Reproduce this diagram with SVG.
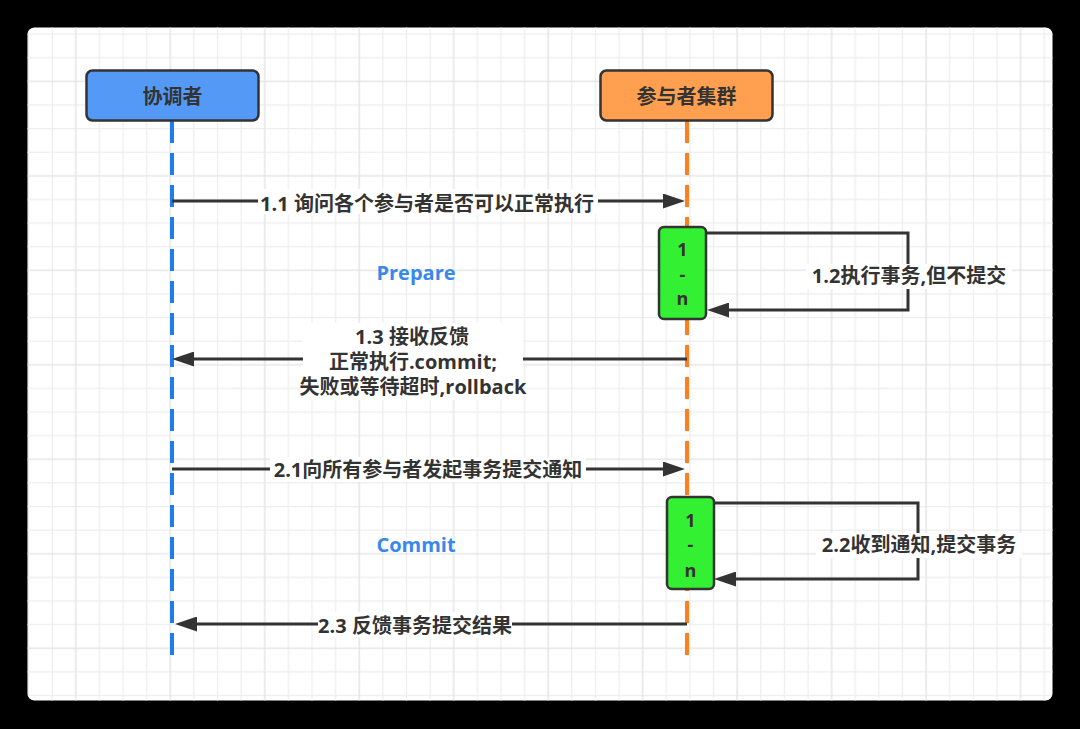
<svg xmlns="http://www.w3.org/2000/svg" width="1080" height="729" viewBox="0 0 1080 729">
<style>
.t{font-family:"Open Sans","Noto Sans CJK SC",sans-serif;font-weight:700;font-size:20px;fill:#333;text-anchor:middle}
.s{font-size:18px}
.phase{fill:#3a88ec}
.node{stroke:#333;stroke-width:2.5}
.msg{fill:none;stroke:#333;stroke-width:3;marker-end:url(#arr)}
.bg{fill:#fff}
.act{fill:#33f033;stroke:#333;stroke-width:2.5}
</style>
<defs>
<marker id="arr" markerUnits="userSpaceOnUse" markerWidth="22" markerHeight="15" refX="4" refY="7.5" orient="auto">
<path d="M0,0 L22,7.5 L0,15 z" fill="#333"/>
</marker>
<pattern id="grid" patternUnits="userSpaceOnUse" x="65.8" y="71.3" width="94.48" height="94.48">
<g stroke="#ededed" stroke-width="1.2">
<path d="M33.62,0 V94.48 M57.24,0 V94.48 M80.86,0 V94.48 M0,33.62 H94.48 M0,57.24 H94.48 M0,80.86 H94.48"/>
</g>
<path d="M10,0 V94.48 M0,10 H94.48" stroke="#e2e2e2" stroke-width="1.3"/>
</pattern>
</defs>
<rect x="0" y="0" width="1080" height="729" fill="#000"/>
<rect x="27.5" y="27.5" width="1025" height="673" rx="7" fill="#fff"/>
<rect x="27.5" y="27.5" width="1025" height="673" rx="7" fill="url(#grid)"/>

<g id="lifelines">
<line x1="172" y1="121" x2="172" y2="663" stroke="#1e7bf0" stroke-width="4" stroke-dasharray="22 10"/>
<line x1="687" y1="121" x2="687" y2="665" stroke="#ff7f1f" stroke-width="4" stroke-dasharray="22 10"/>
</g>

<g id="node-coordinator">
<rect class="node" x="86.5" y="70.5" width="172" height="50" rx="6" fill="#5599f7"/>
<text class="t" x="172.5" y="104">协调者</text>
</g>
<g id="node-participants">
<rect class="node" x="600.5" y="70.5" width="172" height="50" rx="6" fill="#ff9f4f"/>
<text class="t" x="686.5" y="104">参与者集群</text>
</g>

<g id="connectors">
<path id="m11" class="msg" d="M172,201 H667"/>
<path id="m12" class="msg" d="M706,233 H908 V310 H725"/>
<path id="m13" class="msg" d="M687,359 H190"/>
<path id="m21" class="msg" d="M172,469 H667"/>
<path id="m22" class="msg" d="M713,503 H918 V579 H732"/>
<path id="m23" class="msg" d="M687,624 H193"/>
</g>

<g id="labels">
<rect class="bg" x="258" y="189" width="340" height="25"/>
<text class="t" x="427" y="211">1.1 询问各个参与者是否可以正常执行</text>
<rect class="bg" x="806" y="264" width="206" height="25"/>
<text class="t" x="909" y="283">1.2执行事务,但不提交</text>
<rect class="bg" x="303" y="323" width="220" height="77"/>
<text class="t" x="412" y="344">1.3 接收反馈</text>
<text class="t" x="413" y="369">正常执行.commit;</text>
<text class="t" x="413" y="394">失败或等待超时,rollback</text>
<rect class="bg" x="270" y="457" width="316" height="25"/>
<text class="t" x="428" y="477">2.1向所有参与者发起事务提交通知</text>
<rect class="bg" x="816" y="533" width="206" height="25"/>
<text class="t" x="919" y="552">2.2收到通知,提交事务</text>
<rect class="bg" x="318" y="612" width="194" height="25"/>
<text class="t" x="415" y="633">2.3 反馈事务提交结果</text>
</g>

<g id="act1">
<rect class="act" x="659" y="227" width="47" height="92" rx="5"/>
<text class="t s" x="682.5" y="255.5">1</text>
<text class="t s" x="682.5" y="281">-</text>
<text class="t s" x="682.5" y="305">n</text>
</g>
<g id="act2">
<rect class="act" x="667" y="497" width="47" height="92" rx="5"/>
<text class="t s" x="690.5" y="526.5">1</text>
<text class="t s" x="690.5" y="551">-</text>
<text class="t s" x="690.5" y="577">n</text>
</g>

<g id="phase-prepare">
<text class="t phase" x="416" y="280">Prepare</text>
</g>
<g id="phase-commit">
<text class="t phase" x="416" y="552">Commit</text>
</g>
</svg>
